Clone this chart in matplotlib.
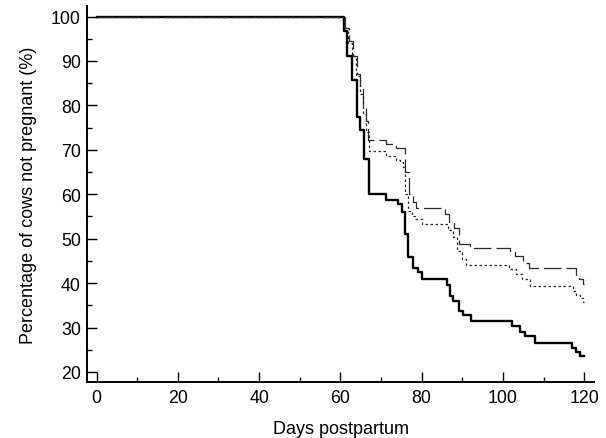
import matplotlib
matplotlib.use("Agg")
import matplotlib.pyplot as plt
from matplotlib.ticker import MultipleLocator

plt.rcParams['font.family'] = ['Liberation Sans', 'DejaVu Sans']

# Kaplan-Meier style step data (day, % not pregnant after step)
solid_days = [0, 60.9, 61.7, 62.9, 64.0, 64.9, 65.8, 67.0, 71.1, 74.2, 75.1, 76.0, 76.7,
              77.9, 79.2, 80.0, 86.2, 87.0, 87.8, 89.1, 90.1, 92.1, 102.2, 104.3, 105.3,
              108.0, 117.0, 117.9, 118.9, 120.0]
solid_vals = [100, 96.8, 91.2, 85.7, 77.4, 74.4, 67.9, 60.0, 58.7, 57.8, 56.1, 51.0, 45.9,
              43.5, 42.4, 41.0, 39.5, 37.1, 36.0, 33.7, 32.8, 31.5, 30.4, 28.9, 28.1,
              26.6, 25.5, 24.5, 23.5, 23.5]

dashed_days = [0, 61.2, 62.0, 63.0, 64.0, 64.8, 65.5, 66.2, 66.8, 71.2, 73.8, 75.9, 76.9,
               77.8, 78.6, 85.8, 86.8, 88.0, 89.1, 91.9, 101.8, 103.0, 104.9, 106.3,
               117.9, 118.7, 119.6, 120.0]
dashed_vals = [100, 97.5, 94.5, 91.0, 87.0, 84.0, 79.5, 76.5, 72.3, 71.2, 70.4, 65.0, 60.0,
               58.3, 56.8, 55.6, 53.7, 52.3, 48.9, 47.8, 46.9, 46.2, 44.6, 43.3,
               41.7, 40.9, 39.7, 39.7]

dotted_days = [0, 61.0, 61.8, 62.8, 63.8, 64.8, 65.6, 66.3, 67.0, 71.3, 73.8, 74.6, 75.5,
               75.9, 76.7, 77.5, 78.3, 80.0, 86.6, 87.6, 88.8, 90.0, 91.0, 101.6, 103.1,
               104.7, 106.7, 117.3, 117.9, 118.9, 119.7, 120.0]
dotted_vals = [100, 97.5, 94.0, 91.0, 86.5, 82.5, 78.0, 74.0, 69.8, 68.6, 67.8, 67.3, 66.1,
               60.0, 56.3, 55.2, 54.4, 53.4, 52.0, 50.3, 47.3, 45.4, 44.1, 43.2, 42.1,
               40.9, 39.4, 38.3, 37.3, 36.6, 35.7, 35.7]

fig = plt.figure(figsize=(6.06, 4.39), dpi=100)
ax = fig.add_axes([0.1436, 0.1276, 0.9802 - 0.1436, 0.9834 - 0.1276])

ax.plot(solid_days, solid_vals, drawstyle='steps-post', color='black', lw=1.7)
ax.plot(dashed_days, dashed_vals, drawstyle='steps-post', color='#2a2a2a', lw=0.9,
        linestyle=(0, (14, 4)))
ax.plot(dotted_days, dotted_vals, drawstyle='steps-post', color='#2a2a2a', lw=0.9,
        linestyle=(0, (2, 2)))

ax.set_xlim(-2.34, 122.4)
ax.set_ylim(17.75, 102.3)

ax.set_yticks([20, 30, 40, 50, 60, 70, 80, 90, 100])
ax.set_yticks([25, 35, 45, 55, 65, 75, 85, 95], minor=True)
ax.set_xticks([0, 20, 40, 60, 80, 100, 120])
ax.set_xticks([10, 30, 50, 70, 90, 110], minor=True)

for s in ['top', 'right']:
    ax.spines[s].set_visible(False)
for s in ['left', 'bottom']:
    ax.spines[s].set_linewidth(1.4)

ax.tick_params(which='major', direction='in', length=7.2, width=1.0, labelsize=12.8, pad=5)
ax.tick_params(which='minor', direction='in', length=3.6, width=1.0)
ax.tick_params(axis='y', which='major', pad=4.5)

ax.set_xlabel('Days postpartum', fontsize=13, labelpad=10)
ax.set_ylabel('Percentage of cows not pregnant (%)', fontsize=13, labelpad=10)

fig.savefig('out.png', dpi=100)
